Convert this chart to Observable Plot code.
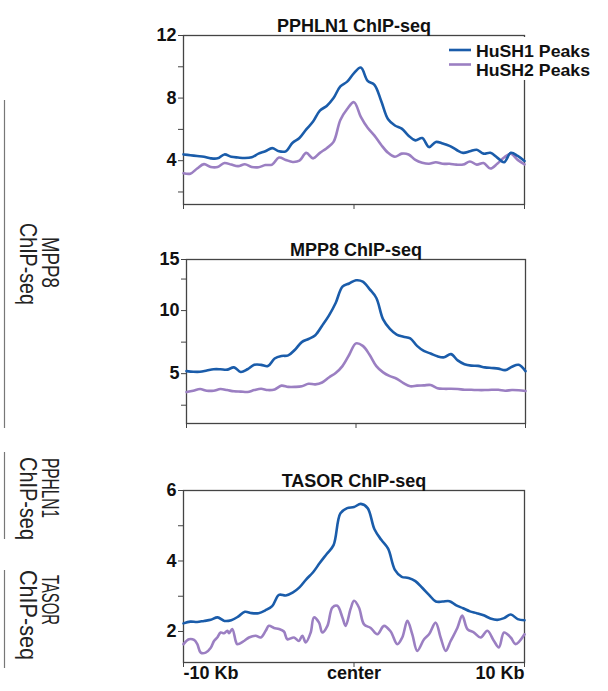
<!DOCTYPE html>
<html><head><meta charset="utf-8">
<script src="https://cdn.jsdelivr.net/npm/d3@7"></script>
<script src="https://cdn.jsdelivr.net/npm/@observablehq/plot@0.6"></script>
<style>
body{margin:0;background:#fff;}
#wrap{position:relative;width:608px;height:691px;overflow:hidden;background:#fff;font-family:"Liberation Sans",Arial,sans-serif;}
#wrap > svg{position:absolute;left:0;}
</style></head><body><div id="wrap"></div>
<script>
// x positions (Kb from peak center)
const gridKb = [-10,-9.6,-9.2,-8.8,-8.4,-8,-7.6,-7.2,-6.8,-6.4,-6,-5.6,-5.2,-4.8,-4.4,-4,-3.6,-3.2,-2.8,-2.4,-2,-1.6,-1.2,-0.8,-0.4,0,0.4,0.8,1.2,1.6,2,2.4,2.8,3.2,3.6,4,4.4,4.8,5.2,5.6,6,6.4,6.8,7.2,7.6,8,8.4,8.8,9.2,9.6,10];

const seriesNames = ["HuSH1 Peaks", "HuSH2 Peaks"];
const panelTitles = ["PPHLN1 ChIP-seq", "MPP8 ChIP-seq", "TASOR ChIP-seq"];
const xTickValues = [-10, 0, 10];
const xTickLabels = ["-10 Kb", "center", "10 Kb"];

// PPHLN1 ChIP-seq
const pphln1Hush1 = [4.4,4.35,4.3,4.25,4.15,4.15,4.4,4.25,4.2,4.17,4.22,4.45,4.6,4.8,4.6,4.6,5.15,5.45,6.0,6.5,7.2,7.5,8.0,8.75,9.05,9.6,9.95,9.1,8.85,7.8,6.65,6.25,6.05,5.6,5.3,5.45,4.87,5.2,5.1,4.95,4.7,4.5,4.6,4.7,4.45,4.5,4.2,3.9,4.5,4.3,3.98];
const pphln1Hush2 = [3.2,3.17,3.5,3.78,3.6,3.6,3.85,3.75,3.65,3.77,3.6,3.58,3.72,3.75,4.2,4.05,3.92,4.0,4.5,4.15,4.5,4.8,5.2,6.6,7.3,7.74,6.8,6.1,5.6,5.0,4.5,4.25,4.45,4.4,4.05,3.87,3.8,3.9,3.8,3.8,3.75,3.75,3.95,3.75,3.85,3.5,3.8,4.2,4.45,4.05,3.77];
const pphln1Ticks = [4, 8, 12];
const pphln1Minor = [2, 6, 10];

// MPP8 ChIP-seq
const mpp8Hush1 = [5.2,5.15,5.15,5.25,5.35,5.35,5.32,5.5,5.13,5.35,5.7,5.7,5.6,6.2,6.4,6.45,6.9,7.5,7.75,8.05,8.8,9.6,10.6,11.9,12.15,12.4,12.3,11.7,11.0,9.3,8.55,8.1,7.93,7.8,7.2,6.8,6.6,6.38,6.3,6.55,6.05,5.75,5.64,5.62,5.5,5.45,5.4,5.28,5.55,5.7,5.2];
const mpp8Hush2 = [3.54,3.65,3.78,3.65,3.65,3.78,3.7,3.6,3.58,3.55,3.7,3.8,3.7,3.75,4.05,3.95,3.95,4.0,4.2,4.15,4.3,4.7,5.05,5.6,6.5,7.4,7.2,6.5,5.6,5.1,4.8,4.6,4.25,4.0,4.05,4.07,4.1,3.85,3.8,3.8,3.78,3.73,3.72,3.7,3.7,3.72,3.72,3.65,3.7,3.68,3.62];
const mpp8Ticks = [5, 10, 15];
const mpp8Minor = [2.5, 7.5, 12.5];

// TASOR ChIP-seq
const tasorHush1 = [2.23,2.28,2.27,2.3,2.33,2.4,2.3,2.32,2.42,2.56,2.52,2.52,2.6,2.72,3.04,3.02,3.1,3.25,3.48,3.68,3.95,4.2,4.45,5.35,5.5,5.53,5.62,5.5,4.9,4.6,4.35,3.75,3.55,3.52,3.43,3.24,3.04,2.85,2.85,2.86,2.74,2.66,2.57,2.52,2.46,2.37,2.33,2.38,2.48,2.35,2.32];
const tasorHush2Kb = [-10,-9.68,-9.38,-9.19,-8.99,-8.7,-8.41,-8.21,-8.02,-7.82,-7.62,-7.43,-7.33,-7.14,-6.94,-6.85,-6.45,-6.16,-5.77,-5.47,-5.18,-4.99,-4.69,-4.4,-4.11,-3.91,-3.52,-3.23,-3.03,-2.83,-2.54,-2.35,-2.05,-1.86,-1.56,-1.27,-0.98,-0.68,-0.49,-0.2,0,0.29,0.59,0.98,1.37,1.76,2.15,2.54,2.83,3.13,3.42,3.71,4.11,4.4,4.79,5.08,5.38,5.67,6.06,6.35,6.65,7.04,7.43,7.82,8.21,8.5,8.8,9.19,9.48,10];
const tasorHush2 = [1.64,1.78,1.76,1.64,1.4,1.4,1.53,1.73,1.83,1.97,1.95,2.02,1.95,2.07,1.73,1.64,1.73,1.83,1.88,1.83,2.02,2.16,2.1,2.07,2.0,1.78,1.83,1.73,1.88,1.69,1.97,2.4,2.25,1.97,2.16,2.68,2.73,2.4,2.16,2.64,2.87,2.68,2.2,2.1,1.92,2.16,2.0,1.64,1.83,2.3,1.92,1.45,1.78,1.92,2.25,1.83,1.45,1.73,2.1,2.45,2.07,1.97,1.83,2.02,1.73,1.55,1.97,1.83,1.64,1.92];
const tasorTicks = [2, 4, 6];
const tasorMinor = [3, 5];

const blue = "#1a5caa";
const purple = "#9b7fc2";
const axisColor = "#444";
const font = "'Liberation Sans', Arial, sans-serif";

const wrap = document.getElementById("wrap");

function panel(o) {
  const d1 = gridKb.map((x, i) => ({x, y: o.s1[i]}));
  const d2 = (o.x2 || gridKb).map((x, i) => ({x, y: o.s2[i]}));
  const marks = [
    Plot.axisY({ticks: o.minor, tickSize: 5, tickFormat: () => "", stroke: axisColor, label: null}),
    Plot.axisY({ticks: o.major, tickSize: 5, tickPadding: 2, tickFormat: o.fmt, fontSize: 18, fontWeight: "bold", fill: "#111", stroke: axisColor, label: null}),
    Plot.axisX({ticks: xTickValues, tickSize: 5, tickFormat: () => "", stroke: axisColor, label: null}),
    Plot.frame({stroke: axisColor, strokeWidth: 1.3}),
    Plot.line(d2, {x: "x", y: "y", stroke: purple, strokeWidth: 2.6, curve: "catmull-rom"}),
    Plot.line(d1, {x: "x", y: "y", stroke: blue, strokeWidth: 2.6, curve: "catmull-rom"}),
    Plot.text([o.title], {text: d => d, frameAnchor: "top", dy: -16.5, fontSize: 18, fontWeight: "bold", fill: "#111"})
  ];
  if (o.xLabels) {
    const rows = xTickValues.map((x, i) => ({x, label: xTickLabels[i]}));
    [["start", 0], ["middle", 1], ["end", 2]].forEach(([a, i]) => {
      marks.push(Plot.text([rows[i]], {x: "x", text: "label", textAnchor: a, frameAnchor: "bottom", dy: 16, fontSize: 18, fontWeight: "bold", fill: "#111"}));
    });
  }
  const svg = Plot.plot({
    width: 608, height: o.height,
    marginLeft: o.ml, marginRight: o.mr, marginTop: 35, marginBottom: o.mb,
    x: {domain: [-10, 10], label: null},
    y: {domain: o.domain, label: null},
    style: {fontFamily: font, background: "transparent", overflow: "visible"},
    marks
  });
  svg.style.top = o.top + "px";
  wrap.appendChild(svg);
}

panel({top: 0, height: 216, ml: 183, mr: 84, mb: 12, domain: [1.2, 12], major: pphln1Ticks, minor: pphln1Minor, fmt: d => d, title: panelTitles[0], s1: pphln1Hush1, s2: pphln1Hush2});
panel({top: 224, height: 211, ml: 186, mr: 83, mb: 12, domain: [1.05, 14.05], major: [5, 10, 14.05], minor: mpp8Minor, fmt: d => d > 14 ? String(mpp8Ticks[2]) : d, title: panelTitles[1], s1: mpp8Hush1, s2: mpp8Hush2});
panel({top: 455, height: 236, ml: 183, mr: 84, mb: 29, domain: [1.12, 6], major: tasorTicks, minor: tasorMinor, fmt: d => d, title: panelTitles[2], s1: tasorHush1, s2: tasorHush2, x2: tasorHush2Kb, xLabels: true});

// left side group labels
const ns = "http://www.w3.org/2000/svg";
const side = document.createElementNS(ns, "svg");
side.setAttribute("width", 80); side.setAttribute("height", 691);
side.style.top = "0px";
wrap.appendChild(side);
const groups = [
  {y0: 100, y1: 428, lines: [["MPP8", 237, 51], ["ChIP-seq", 223, 82]]},
  {y0: 452, y1: 539, lines: [["PPHLN1", 458, 60], ["ChIP-seq", 457, 83]]},
  {y0: 570, y1: 668, lines: [["TASOR", 575, 50], ["ChIP-seq", 570, 90]]}
];
groups.forEach(g => {
  const l = document.createElementNS(ns, "line");
  l.setAttribute("x1", 4.5); l.setAttribute("x2", 4.5);
  l.setAttribute("y1", g.y0); l.setAttribute("y2", g.y1);
  l.setAttribute("stroke", "#777"); l.setAttribute("stroke-width", 1.2);
  side.appendChild(l);
  g.lines.forEach(([t, y, len], i) => {
    const tx = document.createElementNS(ns, "text");
    tx.setAttribute("transform", `translate(${i === 0 ? 42 : 20},${y}) rotate(90)`);
    tx.setAttribute("font-size", 24);
    tx.setAttribute("font-family", font);
    tx.setAttribute("fill", "#222");
    tx.setAttribute("textLength", len);
    tx.setAttribute("lengthAdjust", "spacingAndGlyphs");
    tx.textContent = t;
    side.appendChild(tx);
  });
});

// legend
const leg = document.createElementNS(ns, "svg");
leg.setAttribute("width", 608); leg.setAttribute("height", 100);
leg.style.top = "0px";
wrap.appendChild(leg);
const bg = document.createElementNS(ns, "rect");
bg.setAttribute("x", 445); bg.setAttribute("y", 37); bg.setAttribute("width", 160); bg.setAttribute("height", 43); bg.setAttribute("fill", "#fff");
leg.appendChild(bg);
[[blue, 50, 56.8], [purple, 64.5, 75.5]].forEach(([c, ly, ty], i) => {
  const l = document.createElementNS(ns, "line");
  l.setAttribute("x1", 449); l.setAttribute("x2", 471); l.setAttribute("y1", ly); l.setAttribute("y2", ly);
  l.setAttribute("stroke", c); l.setAttribute("stroke-width", 2.6);
  leg.appendChild(l);
  const t = document.createElementNS(ns, "text");
  t.setAttribute("x", 476); t.setAttribute("y", ty);
  t.setAttribute("font-size", 17); t.setAttribute("font-weight", "bold");
  t.setAttribute("font-family", font); t.setAttribute("fill", "#111");
  t.setAttribute("textLength", 114); t.setAttribute("lengthAdjust", "spacingAndGlyphs");
  t.textContent = seriesNames[i];
  leg.appendChild(t);
});
</script></body></html>
